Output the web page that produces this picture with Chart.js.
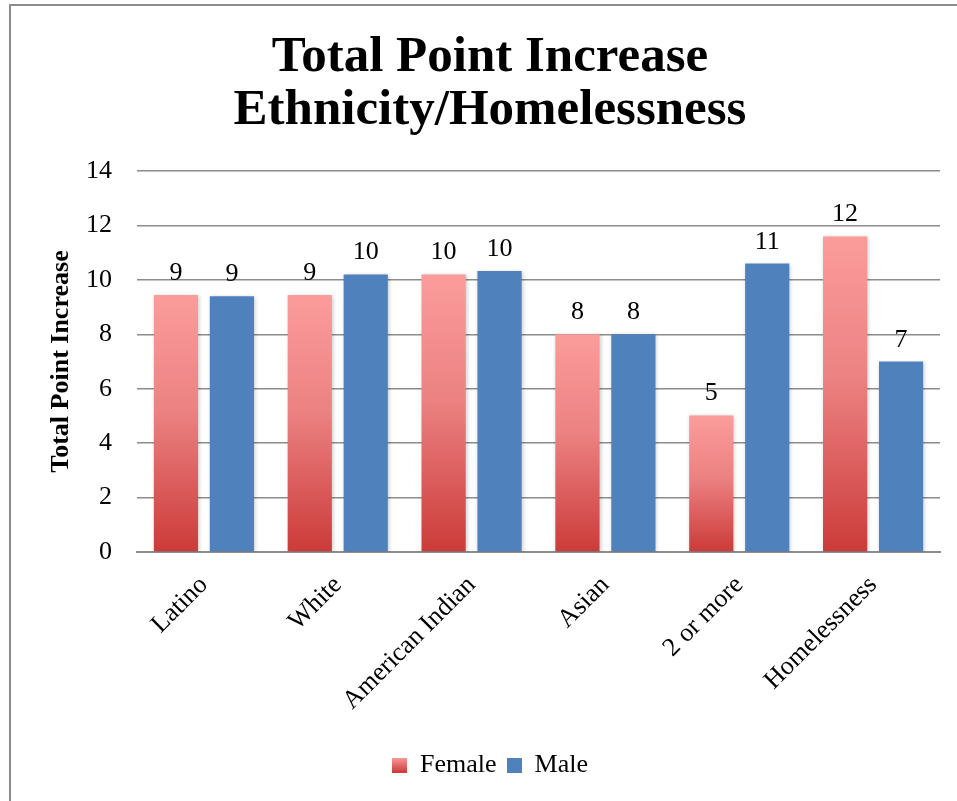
<!DOCTYPE html>
<html>
<head>
<meta charset="utf-8">
<script src="https://cdn.jsdelivr.net/npm/chart.js@4/dist/chart.umd.min.js"></script>
<style>
  html, body { margin: 0; padding: 0; background: #fff; overflow: hidden; width: 957px; height: 801px; }
  #frame { position: absolute; left: 9px; top: 4px; width: 990px; height: 840px; border: 2px solid #8c8c8c; box-sizing: border-box; background: #fff; }
  #wrap { position: absolute; left: 1px; top: 0px; width: 960px; height: 820px; }
</style>
</head>
<body>
<div id="frame"><div id="wrap"><canvas id="c" width="960" height="820"></canvas></div></div>
<script>
const categories = ["Latino", "White", "American Indian", "Asian", "2 or more", "Homelessness"];
const femaleValues = [9.45, 9.45, 10.2, 8.0, 5.02, 11.6];
const maleValues = [9.4, 10.2, 10.33, 8.0, 10.6, 7.0];
const yTicks = [0, 2, 4, 6, 8, 10, 12, 14];
const titleLines = ["Total Point Increase", "Ethnicity/Homelessness"];
const yAxisTitle = "Total Point Increase";

const FONT = "'Liberation Serif', 'DejaVu Serif', serif";
const PINK_TOP = "#fb9c9b";
const RED_BOTTOM = "#cb3b39";
const BLUE = "#4f81bd";

function femaleFill(context) {
  const chart = context.chart;
  const area = chart.chartArea;
  if (!area || context.type !== 'data') return "#e57373";
  const y = chart.scales.y;
  const v = context.raw;
  const yTop = y.getPixelForValue(v);
  const yBot = y.getPixelForValue(0);
  const g = chart.ctx.createLinearGradient(0, yTop, 0, yBot);
  g.addColorStop(0, PINK_TOP);
  g.addColorStop(0.45, "#ec8282");
  g.addColorStop(1, RED_BOTTOM);
  return g;
}

function swatch(kind) {
  const c = document.createElement('canvas');
  c.width = 15; c.height = 15;
  const x = c.getContext('2d');
  if (kind === 'f') {
    const g = x.createLinearGradient(0, 0, 0, 15);
    g.addColorStop(0, PINK_TOP);
    g.addColorStop(1, RED_BOTTOM);
    x.fillStyle = g;
  } else {
    x.fillStyle = BLUE;
  }
  x.fillRect(0, 0, 15, 15);
  return c;
}
const swF = swatch('f'), swM = swatch('m');

const dataLabels = {
  id: 'dataLabels',
  afterDatasetsDraw(chart) {
    const ctx = chart.ctx;
    ctx.save();
    ctx.font = "26px " + FONT;
    ctx.fillStyle = "#000";
    ctx.textAlign = "center";
    ctx.textBaseline = "alphabetic";
    chart.data.datasets.forEach((ds, i) => {
      const meta = chart.getDatasetMeta(i);
      meta.data.forEach((bar, j) => {
        ctx.fillText(String(Math.round(ds.data[j])), bar.x, bar.y - 15);
      });
    });
    ctx.restore();
  }
};

const barShadow = {
  id: 'barShadow',
  beforeDatasetsDraw(chart) {
    const ctx = chart.ctx;
    ctx.save();
    ctx.shadowColor = "rgba(0,0,0,0.22)";
    ctx.shadowBlur = 4;
    ctx.shadowOffsetX = 1;
    ctx.shadowOffsetY = 1;
  },
  afterDatasetsDraw(chart) {
    chart.ctx.restore();
  }
};

new Chart(document.getElementById('c'), {
  type: 'bar',
  data: {
    labels: categories,
    datasets: [
      { label: "Female", data: femaleValues, backgroundColor: femaleFill, borderWidth: 0 },
      { label: "Male", data: maleValues, backgroundColor: BLUE, borderWidth: 0 }
    ]
  },
  options: {
    responsive: false,
    animation: false,
    devicePixelRatio: 1,
    layout: { padding: { left: 28, right: 32, top: 0, bottom: 38 } },
    categoryPercentage: 0.836,
    barPercentage: 0.79,
    plugins: {
      title: {
        display: true,
        text: titleLines,
        font: { family: FONT, size: 51, weight: 'bold', lineHeight: 1.05 },
        color: "#000",
        padding: { top: 25, bottom: 33 }
      },
      legend: {
        position: 'bottom',
        labels: {
          font: { family: FONT, size: 26 },
          color: "#000",
          usePointStyle: true,
          boxWidth: 15,
          boxHeight: 15,
          padding: 10,
          generateLabels(chart) {
            return chart.data.datasets.map((ds, i) => ({
              text: ds.label,
              pointStyle: i === 0 ? swF : swM,
              fillStyle: i === 0 ? RED_BOTTOM : BLUE,
              strokeStyle: 'transparent',
              lineWidth: 0,
              hidden: false,
              datasetIndex: i,
              fontColor: "#000"
            }));
          }
        }
      },
      tooltip: { enabled: false }
    },
    scales: {
      x: {
        grid: { display: false, drawTicks: false },
        border: { display: true, color: "#8c8c8c", width: 2 },
        ticks: {
          font: { family: FONT, size: 26 },
          color: "#000",
          maxRotation: 45,
          minRotation: 45,
          padding: 18
        },
        afterFit(scale) { scale.height = 190; }
      },
      y: {
        min: 0,
        max: 14,
        afterBuildTicks(scale) { scale.ticks = yTicks.map(v => ({ value: v })); },
        grid: { color: "#8c8c8c", lineWidth: 1.5, drawTicks: true, tickLength: 0 },
        border: { display: false },
        ticks: {
          font: { family: FONT, size: 26 },
          color: "#000",
          padding: 25
        },
        title: {
          display: true,
          text: yAxisTitle,
          font: { family: FONT, size: 26, weight: 'bold' },
          color: "#000",
          padding: { top: 6, bottom: 0 }
        },
        afterFit(scale) { scale.width = 97; }
      }
    }
  },
  plugins: [barShadow, dataLabels]
});
</script>
</body>
</html>
